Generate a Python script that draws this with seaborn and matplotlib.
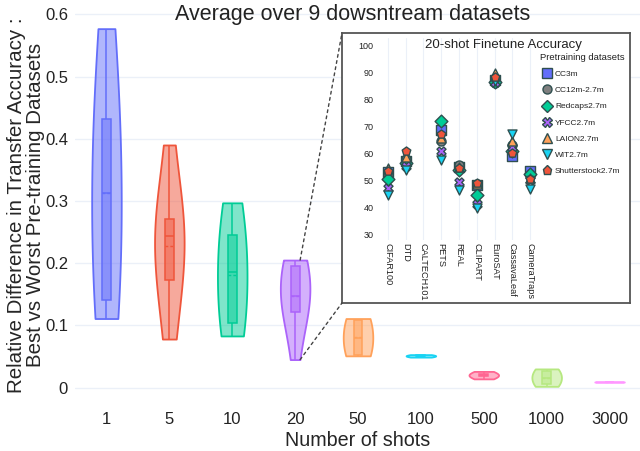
import pandas as pd
import seaborn as sns
import matplotlib.pyplot as plt
from matplotlib.colors import to_rgba
from matplotlib.lines import Line2D
from matplotlib.patches import ConnectionPatch

# Main chart: relative difference per number of shots (9 downstream datasets)
shot_labels = ["1", "5", "10", "20", "50", "100", "500", "1000", "3000"]
rel_diff_1 = [0.111, 0.125, 0.140, 0.250, 0.313, 0.370, 0.432, 0.490, 0.577]
rel_diff_5 = [0.078, 0.140, 0.173, 0.225, 0.243, 0.250, 0.271, 0.285, 0.390]
rel_diff_10 = [0.083, 0.090, 0.104, 0.150, 0.185, 0.210, 0.246, 0.270, 0.297]
rel_diff_20 = [0.045, 0.110, 0.122, 0.135, 0.148, 0.170, 0.195, 0.200, 0.205]
rel_diff_50 = [0.051, 0.053, 0.080, 0.108, 0.111]
rel_diff_100 = [0.049, 0.050, 0.051, 0.052, 0.053]
rel_diff_500 = [0.014, 0.018, 0.020, 0.022, 0.026]
rel_diff_1000 = [0.002, 0.006, 0.016, 0.026, 0.030]
rel_diff_3000 = [0.0085, 0.0090, 0.0095]
rel_diffs = [rel_diff_1, rel_diff_5, rel_diff_10, rel_diff_20, rel_diff_50,
             rel_diff_100, rel_diff_500, rel_diff_1000, rel_diff_3000]
shot_colors = ["#636EFA", "#EF553B", "#00CC96", "#AB63FA", "#FFA15A",
               "#19D3F3", "#FF6692", "#B6E880", "#FF97FF"]
y_ticks = [0, 0.1, 0.2, 0.3, 0.4, 0.5, 0.6]
y_tick_labels = ["0", "0.1", "0.2", "0.3", "0.4", "0.5", "0.6"]

# Inset: 20-shot finetune accuracy per downstream dataset
datasets = ["CIFAR100", "DTD", "CALTECH101", "PETS", "REAL", "CLIPART",
            "EuroSAT", "CassavaLeaf", "CameraTraps"]
nan = float("nan")
acc_cc3m = [53.0, 57.0, nan, 68.7, 54.8, 48.2, 87.0, 59.2, 53.5]
acc_cc12m = [52.0, 57.8, nan, 64.7, 55.6, 48.6, 85.8, 63.0, 51.5]
acc_redcaps = [50.6, 56.5, nan, 72.0, 54.0, 44.7, 86.2, 61.0, 52.3]
acc_yfcc = [47.2, 55.3, nan, 60.8, 49.4, 41.2, 86.5, 62.3, 50.0]
acc_laion = [54.5, 58.5, nan, 65.5, 55.0, 48.5, 89.5, 64.5, 51.0]
acc_wit = [44.8, 53.8, nan, 57.5, 46.4, 39.8, 86.8, 67.2, 46.8]
acc_shutterstock = [53.3, 61.0, nan, 67.0, 54.7, 49.0, 88.3, 60.3, 50.5]
pretrain_labels = ["CC3m", "CC12m-2.7m", "Redcaps2.7m", "YFCC2.7m",
                   "LAION2.7m", "WIT2.7m", "Shutterstock2.7m"]
pretrain_accs = [acc_cc3m, acc_cc12m, acc_redcaps, acc_yfcc, acc_laion,
                 acc_wit, acc_shutterstock]
pretrain_markers = ["s", "o", "D", "X", "^", "v", "p"]
pretrain_colors = ["#636EFA", "#7F7F7F", "#00CC96", "#AB63FA", "#FFA15A",
                   "#19D3F3", "#EF553B"]
edge_col = "#2F4F4F"
grid_col = "#EBF0F8"
text_col = "#222222"

sns.set_style("white")
plt.rcParams['font.family'] = ['Liberation Sans', 'DejaVu Sans']
plt.rcParams['text.color'] = text_col

fig = plt.figure(figsize=(6.4, 4.51), dpi=100)


def px_axes(x0, y0, x1, y1):
    return fig.add_axes([x0 / 640, 1 - y1 / 451, (x1 - x0) / 640, (y1 - y0) / 451])


ax = px_axes(75, 5, 641, 405)

for lab, vals, col in zip(shot_labels, rel_diffs, shot_colors):
    sub = pd.DataFrame({"shots": lab, "rel_diff": vals})
    n_coll = len(ax.collections)
    sns.violinplot(data=sub, x="shots", y="rel_diff", order=shot_labels,
                   color=col, linecolor=col, linewidth=1.3, cut=0,
                   density_norm="width", width=0.47, inner=None,
                   bw_adjust=1.5, saturation=1, ax=ax)
    for coll in ax.collections[n_coll:]:
        coll.set_facecolor(to_rgba(col, 0.5))
        coll.set_edgecolor(col)
    n_patch = len(ax.patches)
    sns.boxplot(data=sub, x="shots", y="rel_diff", order=shot_labels,
                color=col, linecolor=col, linewidth=1.1, width=0.14,
                whis=(0, 100), showcaps=False, showfliers=False,
                showmeans=True, meanline=True,
                meanprops={"linestyle": (0, (2, 1.5)), "color": col, "linewidth": 1},
                saturation=1, ax=ax)
    for p in ax.patches[n_patch:]:
        p.set_facecolor(to_rgba(col, 0.5))
        p.set_edgecolor(col)

ax.set_xlim(-0.5, len(shot_labels) - 0.5)
ax.set_ylim(-0.028, 0.615)
ax.set_yticks(y_ticks, y_tick_labels)
ax.yaxis.grid(True, color=grid_col, linewidth=1)
ax.set_axisbelow(True)
ax.tick_params(length=0, labelsize=12, pad=5, colors=text_col)
for s in ax.spines.values():
    s.set_visible(False)
ax.set_xlabel("Number of shots", fontsize=14.2, labelpad=3)
ax.set_ylabel("Relative Difference in Transfer Accuracy :\nBest vs Worst Pre-training Datasets",
              fontsize=14.8, labelpad=0, linespacing=1.0)
ax.set_title("Average over 9 dowsntream datasets", fontsize=15.5, y=0.962, pad=0, x=0.49)

# inset frame and plot
frame = px_axes(342, 33, 630, 303)
frame.set_xticks([])
frame.set_yticks([])
frame.set_facecolor("white")
for s in frame.spines.values():
    s.set_color("#555555")
    s.set_linewidth(1.3)

inset = px_axes(379, 38, 539, 240)
inset.set_facecolor("none")
for lab, accs, m, col in zip(pretrain_labels, pretrain_accs, pretrain_markers, pretrain_colors):
    sub = pd.DataFrame({"dataset": datasets, "acc": accs})
    sns.stripplot(data=sub, x="dataset", y="acc", order=datasets, jitter=False,
                  marker=m, color=col, size=6.5, edgecolor=edge_col, linewidth=1,
                  ax=inset)
inset.set_xlim(-0.5, len(datasets) - 0.5)
inset.set_ylim(28, 102.6)
inset.set_yticks(range(30, 101, 10))
inset.xaxis.grid(True, color=grid_col, linewidth=0.8)
inset.yaxis.grid(False)
inset.set_axisbelow(True)
inset.tick_params(length=0, labelsize=6.5, pad=4, colors=text_col)
inset.tick_params(axis="x", labelrotation=-90, labelsize=6.6, pad=2)
for s in inset.spines.values():
    s.set_visible(False)
inset.set_xlabel("")
inset.set_ylabel("")
fig.text(503 / 640, 1 - 48 / 451, "20-shot Finetune Accuracy", fontsize=9.5,
         ha="center", va="baseline")

handles = [Line2D([], [], marker=m, linestyle="", markerfacecolor=c,
                  markeredgecolor=edge_col, markeredgewidth=1, markersize=6.5, label=l)
           for l, m, c in zip(pretrain_labels, pretrain_markers, pretrain_colors)]
fig.legend(handles=handles, title="Pretraining datasets", loc="upper left",
           bbox_to_anchor=(540 / 640, 1 - 53 / 451), frameon=False, fontsize=6,
           title_fontsize=6.8, labelspacing=1.0, handletextpad=0.2,
           handlelength=1.6, borderpad=0, borderaxespad=0, alignment="left")

# dotted connectors from the 20-shot violin to the inset
i20 = shot_labels.index("20")
for y_val, corner in [(max(rel_diff_20), (0, 1)), (min(rel_diff_20), (0, 0))]:
    con = ConnectionPatch(xyA=(i20 + 0.08, y_val), coordsA=ax.transData,
                          xyB=corner, coordsB=frame.transAxes,
                          linestyle=(0, (2, 2.5)), color="#444444", linewidth=1)
    fig.add_artist(con)

fig.savefig("out.png", dpi=100)
